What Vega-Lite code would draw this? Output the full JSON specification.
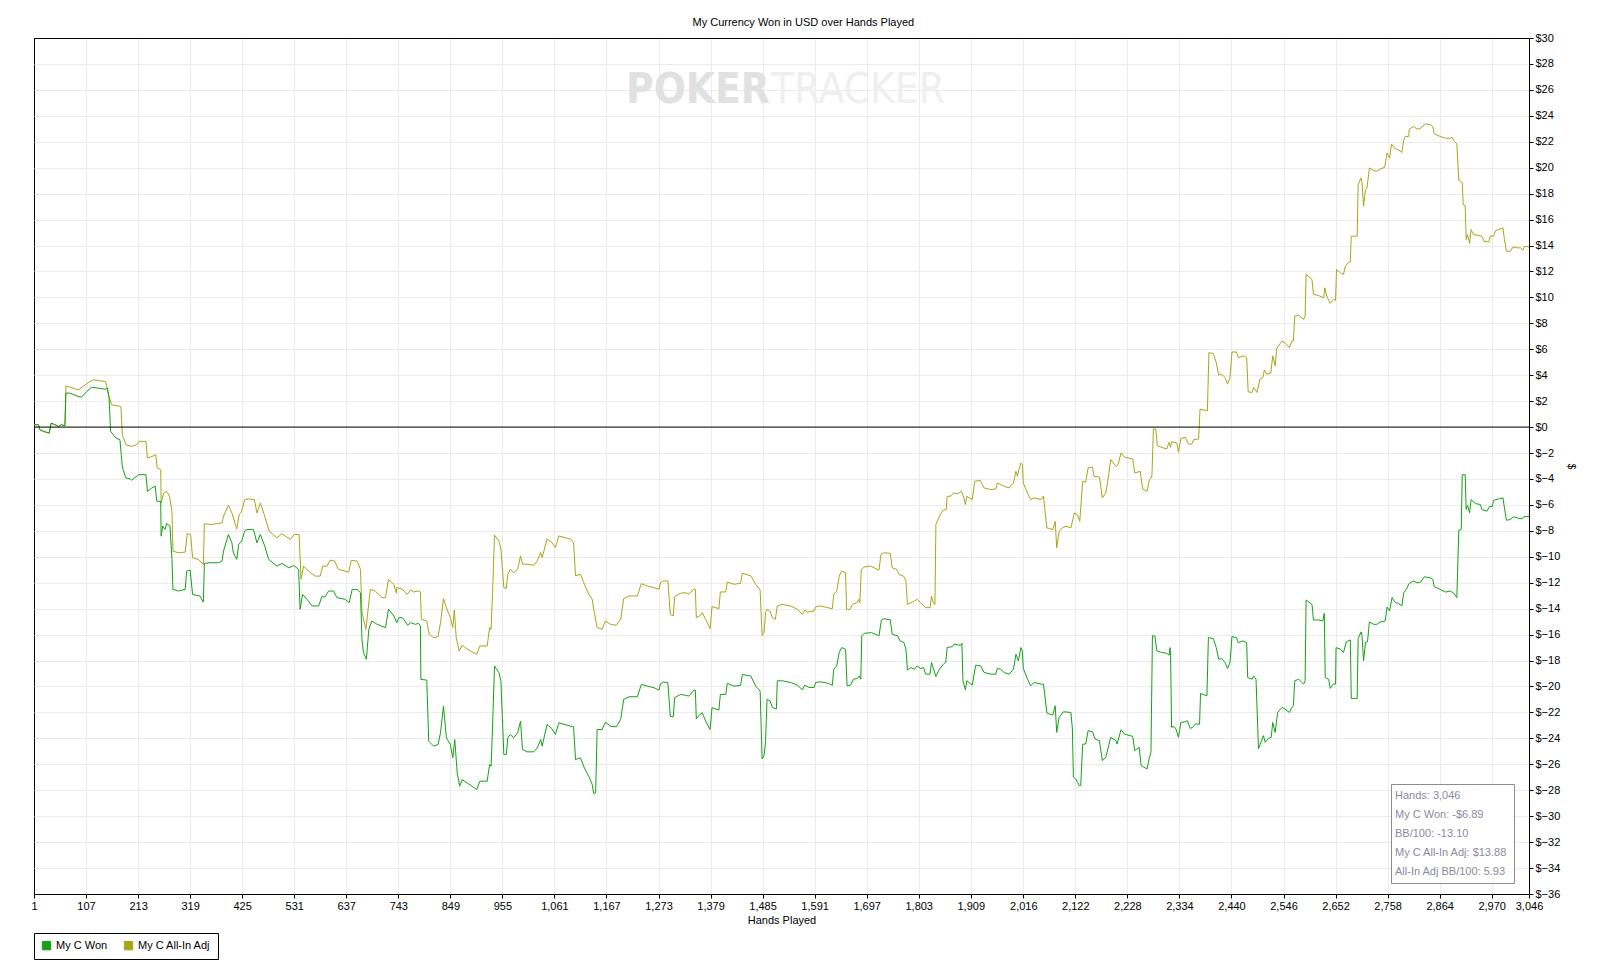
{
  "$schema": "https://vega.github.io/schema/vega-lite/v6.json",
  "width": 1495,
  "height": 856,
  "autosize": {"type": "none"},
  "padding": {"left": 34, "top": 38, "right": 80, "bottom": 85},
  "background": "white",
  "title": {
    "text": "My Currency Won in USD over Hands Played",
    "font": "Liberation Sans",
    "fontSize": 11,
    "fontWeight": "normal",
    "color": "black",
    "anchor": "middle",
    "frame": "bounds",
    "offset": 4
  },
  "datasets": {
    "won": [
      {"h":1,"v":0.18},{"h":10,"v":0.18},{"h":13,"v":-0.21},{"h":20,"v":-0.33},{"h":32,"v":-0.46},{"h":36,"v":0.31},{"h":44,"v":0.18},{"h":51,"v":0.05},{"h":57,"v":0.18},{"h":64,"v":0.1},
      {"h":66,"v":2.62},{"h":74,"v":2.62},{"h":91,"v":2.36},{"h":98,"v":2.31},{"h":108,"v":2.74},{"h":119,"v":3.08},{"h":132,"v":3.0},{"h":146,"v":2.92},{"h":150,"v":3.0},{"h":154,"v":2.23},
      {"h":157,"v":-0.33},{"h":168,"v":-0.85},{"h":176,"v":-0.97},{"h":181,"v":-3.08},{"h":188,"v":-3.92},{"h":197,"v":-4.0},{"h":200,"v":-4.1},{"h":210,"v":-3.79},{"h":214,"v":-3.67},{"h":229,"v":-3.67},
      {"h":232,"v":-4.95},{"h":241,"v":-4.69},{"h":248,"v":-4.56},{"h":251,"v":-5.72},{"h":259,"v":-5.72},{"h":260,"v":-8.41},{"h":263,"v":-7.64},{"h":268,"v":-7.9},{"h":271,"v":-7.44},{"h":278,"v":-7.64},
      {"h":282,"v":-10.2},{"h":284,"v":-12.51},{"h":295,"v":-12.64},{"h":309,"v":-12.51},{"h":312,"v":-11.1},{"h":319,"v":-11.03},{"h":324,"v":-12.9},{"h":339,"v":-13.03},{"h":346,"v":-13.49},{"h":348,"v":-10.51},
      {"h":360,"v":-10.46},{"h":377,"v":-10.46},{"h":384,"v":-10.33},{"h":387,"v":-9.56},{"h":397,"v":-8.28},{"h":404,"v":-8.92},{"h":407,"v":-9.69},{"h":414,"v":-10.2},{"h":418,"v":-9.05},{"h":424,"v":-8.79},
      {"h":430,"v":-8.03},{"h":435,"v":-7.9},{"h":448,"v":-7.9},{"h":455,"v":-8.92},{"h":462,"v":-8.28},{"h":471,"v":-9.18},{"h":479,"v":-10.2},{"h":496,"v":-10.72},{"h":506,"v":-10.51},{"h":520,"v":-10.85},
      {"h":530,"v":-10.67},{"h":540,"v":-10.97},{"h":543,"v":-14.05},{"h":548,"v":-12.9},{"h":560,"v":-13.41},{"h":567,"v":-13.79},{"h":581,"v":-13.79},{"h":587,"v":-13.08},{"h":594,"v":-13.08},{"h":601,"v":-12.64},
      {"h":611,"v":-12.64},{"h":618,"v":-13.15},{"h":635,"v":-13.28},{"h":643,"v":-13.54},{"h":649,"v":-12.51},{"h":659,"v":-12.51},{"h":666,"v":-12.77},{"h":669,"v":-16.36},{"h":672,"v":-17.38},{"h":678,"v":-17.9},
      {"h":683,"v":-15.59},{"h":689,"v":-14.95},{"h":700,"v":-15.21},{"h":717,"v":-15.46},{"h":723,"v":-14.05},{"h":734,"v":-14.56},{"h":740,"v":-15.08},{"h":744,"v":-14.69},{"h":751,"v":-14.69},{"h":754,"v":-14.82},
      {"h":762,"v":-15.28},{"h":768,"v":-15.08},{"h":778,"v":-15.21},{"h":784,"v":-15.13},{"h":788,"v":-15.34},{"h":789,"v":-19.45},{"h":801,"v":-19.51},{"h":805,"v":-24.22},{"h":815,"v":-24.6},{"h":824,"v":-24.47},
      {"h":829,"v":-23.57},{"h":835,"v":-21.51},{"h":841,"v":-23.96},{"h":849,"v":-24.47},{"h":854,"v":-25.5},{"h":858,"v":-24.09},{"h":863,"v":-26.66},{"h":868,"v":-27.69},{"h":873,"v":-27.18},{"h":883,"v":-27.43},
      {"h":893,"v":-27.69},{"h":903,"v":-27.95},{"h":909,"v":-27.3},{"h":924,"v":-27.3},{"h":929,"v":-26.02},{"h":932,"v":-26.15},{"h":935,"v":-23.06},{"h":939,"v":-18.42},{"h":948,"v":-18.94},{"h":952,"v":-19.58},
      {"h":958,"v":-25.25},{"h":963,"v":-25.25},{"h":966,"v":-23.96},{"h":971,"v":-23.7},{"h":978,"v":-23.96},{"h":986,"v":-23.57},{"h":992,"v":-22.67},{"h":996,"v":-24.86},{"h":1005,"v":-25.04},{"h":1019,"v":-25.04},
      {"h":1026,"v":-24.73},{"h":1033,"v":-24.09},{"h":1036,"v":-24.6},{"h":1046,"v":-22.93},{"h":1056,"v":-23.26},{"h":1063,"v":-23.7},{"h":1070,"v":-22.8},{"h":1094,"v":-23.06},{"h":1100,"v":-23.11},{"h":1104,"v":-25.63},
      {"h":1114,"v":-25.5},{"h":1122,"v":-26.28},{"h":1131,"v":-26.92},{"h":1138,"v":-27.56},{"h":1141,"v":-28.26},{"h":1145,"v":-28.21},{"h":1148,"v":-23.32},{"h":1158,"v":-23.32},{"h":1165,"v":-22.75},{"h":1175,"v":-23.06},
      {"h":1187,"v":-23.11},{"h":1196,"v":-22.54},{"h":1202,"v":-21.0},{"h":1213,"v":-20.79},{"h":1230,"v":-20.79},{"h":1238,"v":-19.84},{"h":1250,"v":-19.97},{"h":1264,"v":-20.1},{"h":1274,"v":-20.28},{"h":1277,"v":-19.79},
      {"h":1283,"v":-19.66},{"h":1292,"v":-19.71},{"h":1297,"v":-22.29},{"h":1303,"v":-22.34},{"h":1306,"v":-20.87},{"h":1318,"v":-20.61},{"h":1328,"v":-20.69},{"h":1335,"v":-20.74},{"h":1345,"v":-20.28},{"h":1348,"v":-20.28},
      {"h":1350,"v":-22.49},{"h":1357,"v":-22.16},{"h":1362,"v":-22.03},{"h":1369,"v":-22.67},{"h":1378,"v":-23.32},{"h":1382,"v":-21.64},{"h":1396,"v":-21.82},{"h":1399,"v":-20.61},{"h":1410,"v":-20.61},{"h":1413,"v":-19.76},
      {"h":1427,"v":-19.97},{"h":1440,"v":-19.92},{"h":1444,"v":-19.07},{"h":1461,"v":-19.2},{"h":1471,"v":-19.97},{"h":1480,"v":-20.36},{"h":1484,"v":-25.58},{"h":1488,"v":-25.3},{"h":1491,"v":-24.3},{"h":1494,"v":-21.0},
      {"h":1500,"v":-21.1},{"h":1505,"v":-21.62},{"h":1513,"v":-21.74},{"h":1515,"v":-19.56},{"h":1525,"v":-19.56},{"h":1542,"v":-19.69},{"h":1556,"v":-19.9},{"h":1566,"v":-20.26},{"h":1571,"v":-19.9},{"h":1580,"v":-20.08},
      {"h":1590,"v":-20.08},{"h":1593,"v":-19.69},{"h":1603,"v":-19.64},{"h":1617,"v":-19.74},{"h":1627,"v":-19.9},{"h":1630,"v":-18.67},{"h":1636,"v":-18.41},{"h":1641,"v":-17.38},{"h":1646,"v":-17.0},{"h":1654,"v":-17.13},
      {"h":1657,"v":-19.95},{"h":1664,"v":-19.9},{"h":1670,"v":-19.44},{"h":1678,"v":-19.38},{"h":1682,"v":-19.18},{"h":1685,"v":-19.44},{"h":1687,"v":-16.1},{"h":1692,"v":-15.9},{"h":1707,"v":-15.85},{"h":1722,"v":-16.1},
      {"h":1727,"v":-14.87},{"h":1732,"v":-14.77},{"h":1745,"v":-14.87},{"h":1749,"v":-15.97},{"h":1760,"v":-16.1},{"h":1765,"v":-16.49},{"h":1773,"v":-16.62},{"h":1777,"v":-17.13},{"h":1780,"v":-18.72},{"h":1787,"v":-18.54},
      {"h":1794,"v":-18.67},{"h":1800,"v":-18.41},{"h":1807,"v":-18.62},{"h":1813,"v":-18.54},{"h":1817,"v":-19.05},{"h":1826,"v":-19.05},{"h":1829,"v":-18.15},{"h":1838,"v":-19.23},{"h":1845,"v":-18.67},{"h":1853,"v":-18.28},
      {"h":1858,"v":-18.15},{"h":1861,"v":-17.0},{"h":1872,"v":-16.92},{"h":1875,"v":-16.74},{"h":1889,"v":-16.82},{"h":1891,"v":-16.67},{"h":1893,"v":-19.56},{"h":1898,"v":-20.26},{"h":1901,"v":-19.56},{"h":1912,"v":-19.9},
      {"h":1919,"v":-18.36},{"h":1929,"v":-18.41},{"h":1936,"v":-18.92},{"h":1950,"v":-19.05},{"h":1960,"v":-19.05},{"h":1963,"v":-18.62},{"h":1970,"v":-18.67},{"h":1977,"v":-18.92},{"h":1987,"v":-19.05},{"h":1996,"v":-18.67},
      {"h":2001,"v":-17.51},{"h":2006,"v":-18.03},{"h":2011,"v":-17.0},{"h":2014,"v":-17.26},{"h":2016,"v":-18.62},{"h":2026,"v":-19.56},{"h":2031,"v":-19.95},{"h":2038,"v":-19.69},{"h":2052,"v":-19.82},{"h":2057,"v":-19.82},
      {"h":2060,"v":-20.72},{"h":2064,"v":-22.05},{"h":2076,"v":-22.21},{"h":2081,"v":-21.49},{"h":2084,"v":-23.54},{"h":2089,"v":-22.38},{"h":2098,"v":-21.95},{"h":2113,"v":-22.0},{"h":2116,"v":-23.28},{"h":2118,"v":-27.0},
      {"h":2123,"v":-27.13},{"h":2130,"v":-27.64},{"h":2133,"v":-27.64},{"h":2137,"v":-24.44},{"h":2143,"v":-24.44},{"h":2148,"v":-23.41},{"h":2157,"v":-23.49},{"h":2162,"v":-24.05},{"h":2171,"v":-24.18},{"h":2177,"v":-25.72},
      {"h":2184,"v":-25.46},{"h":2190,"v":-24.56},{"h":2194,"v":-23.92},{"h":2205,"v":-24.18},{"h":2207,"v":-24.44},{"h":2215,"v":-23.33},{"h":2222,"v":-23.67},{"h":2239,"v":-23.85},{"h":2243,"v":-24.95},{"h":2252,"v":-24.69},
      {"h":2256,"v":-26.1},{"h":2268,"v":-26.36},{"h":2273,"v":-25.46},{"h":2276,"v":-25.08},{"h":2279,"v":-16.1},{"h":2284,"v":-16.1},{"h":2288,"v":-17.26},{"h":2298,"v":-17.38},{"h":2308,"v":-17.44},{"h":2313,"v":-17.59},
      {"h":2315,"v":-17.0},{"h":2316,"v":-17.59},{"h":2318,"v":-23.15},{"h":2323,"v":-23.08},{"h":2327,"v":-23.28},{"h":2332,"v":-23.92},{"h":2337,"v":-22.77},{"h":2346,"v":-22.72},{"h":2350,"v":-22.64},{"h":2356,"v":-23.23},
      {"h":2361,"v":-23.15},{"h":2366,"v":-22.9},{"h":2375,"v":-22.9},{"h":2377,"v":-20.54},{"h":2390,"v":-20.72},{"h":2393,"v":-16.23},{"h":2403,"v":-16.31},{"h":2409,"v":-17.0},{"h":2414,"v":-17.9},{"h":2420,"v":-17.85},
      {"h":2427,"v":-18.15},{"h":2432,"v":-18.62},{"h":2437,"v":-18.15},{"h":2441,"v":-16.15},{"h":2450,"v":-16.23},{"h":2454,"v":-16.62},{"h":2463,"v":-16.49},{"h":2471,"v":-16.62},{"h":2473,"v":-19.31},{"h":2482,"v":-19.44},
      {"h":2485,"v":-19.18},{"h":2490,"v":-19.44},{"h":2495,"v":-24.82},{"h":2505,"v":-23.79},{"h":2509,"v":-24.31},{"h":2515,"v":-24.0},{"h":2521,"v":-23.92},{"h":2524,"v":-22.77},{"h":2529,"v":-23.54},{"h":2534,"v":-22.0},
      {"h":2543,"v":-21.62},{"h":2549,"v":-21.74},{"h":2558,"v":-22.0},{"h":2563,"v":-21.62},{"h":2566,"v":-21.49},{"h":2569,"v":-19.56},{"h":2577,"v":-19.44},{"h":2587,"v":-19.82},{"h":2590,"v":-19.56},{"h":2592,"v":-13.33},
      {"h":2604,"v":-13.67},{"h":2607,"v":-14.87},{"h":2617,"v":-14.87},{"h":2626,"v":-14.95},{"h":2629,"v":-14.36},{"h":2631,"v":-19.31},{"h":2638,"v":-19.44},{"h":2641,"v":-20.15},{"h":2647,"v":-19.82},{"h":2652,"v":-19.82},
      {"h":2653,"v":-17.0},{"h":2662,"v":-17.13},{"h":2668,"v":-17.38},{"h":2674,"v":-16.56},{"h":2682,"v":-16.41},{"h":2684,"v":-20.92},{"h":2696,"v":-20.92},{"h":2698,"v":-16.31},{"h":2704,"v":-15.79},{"h":2706,"v":-16.1},
      {"h":2709,"v":-18.03},{"h":2713,"v":-16.62},{"h":2717,"v":-16.56},{"h":2721,"v":-15.03},{"h":2730,"v":-15.21},{"h":2736,"v":-15.21},{"h":2743,"v":-15.03},{"h":2753,"v":-14.95},{"h":2757,"v":-13.87},{"h":2762,"v":-14.18},
      {"h":2767,"v":-13.15},{"h":2774,"v":-13.54},{"h":2780,"v":-13.59},{"h":2787,"v":-13.79},{"h":2791,"v":-12.77},{"h":2796,"v":-12.51},{"h":2802,"v":-12.05},{"h":2811,"v":-11.87},{"h":2818,"v":-12.0},{"h":2825,"v":-11.95},
      {"h":2833,"v":-11.54},{"h":2845,"v":-11.62},{"h":2850,"v":-11.74},{"h":2853,"v":-12.31},{"h":2865,"v":-12.51},{"h":2876,"v":-12.72},{"h":2886,"v":-12.64},{"h":2893,"v":-12.82},{"h":2899,"v":-13.15},{"h":2903,"v":-7.95},
      {"h":2908,"v":-7.9},{"h":2910,"v":-3.67},{"h":2916,"v":-3.67},{"h":2918,"v":-6.36},{"h":2921,"v":-6.05},{"h":2925,"v":-6.62},{"h":2928,"v":-5.59},{"h":2937,"v":-5.9},{"h":2947,"v":-5.97},{"h":2950,"v":-6.36},
      {"h":2960,"v":-6.49},{"h":2966,"v":-6.1},{"h":2971,"v":-6.15},{"h":2974,"v":-5.64},{"h":2984,"v":-5.54},{"h":2993,"v":-5.46},{"h":2996,"v":-6.23},{"h":3000,"v":-7.18},{"h":3008,"v":-7.13},{"h":3014,"v":-6.92},
      {"h":3022,"v":-7.0},{"h":3032,"v":-7.08},{"h":3035,"v":-6.92},{"h":3046,"v":-6.89}
    ],
    "adj": [
      {"h":1,"v":0.18},{"h":10,"v":0.18},{"h":13,"v":-0.21},{"h":20,"v":-0.33},{"h":32,"v":-0.46},{"h":36,"v":0.31},{"h":44,"v":0.18},{"h":51,"v":0.05},{"h":57,"v":0.18},{"h":64,"v":0.1},
      {"h":66,"v":3.18},{"h":91,"v":2.87},{"h":112,"v":3.44},{"h":122,"v":3.64},{"h":147,"v":3.51},{"h":154,"v":2.36},{"h":159,"v":1.72},{"h":178,"v":1.59},{"h":181,"v":-0.59},{"h":188,"v":-1.36},
      {"h":200,"v":-1.49},{"h":210,"v":-1.36},{"h":215,"v":-1.1},{"h":229,"v":-1.1},{"h":232,"v":-2.38},{"h":242,"v":-2.26},{"h":249,"v":-2.13},{"h":252,"v":-3.15},{"h":259,"v":-3.28},{"h":260,"v":-5.85},
      {"h":265,"v":-5.08},{"h":271,"v":-4.95},{"h":277,"v":-5.33},{"h":282,"v":-6.49},{"h":284,"v":-9.56},{"h":295,"v":-9.69},{"h":309,"v":-9.64},{"h":313,"v":-8.21},{"h":320,"v":-8.28},{"h":324,"v":-10.08},
      {"h":336,"v":-10.21},{"h":346,"v":-10.59},{"h":348,"v":-7.46},{"h":363,"v":-7.51},{"h":384,"v":-7.38},{"h":387,"v":-6.87},{"h":397,"v":-6.03},{"h":404,"v":-6.62},{"h":414,"v":-7.85},{"h":419,"v":-6.74},
      {"h":424,"v":-6.49},{"h":430,"v":-5.59},{"h":438,"v":-5.54},{"h":450,"v":-5.59},{"h":455,"v":-6.62},{"h":462,"v":-5.85},{"h":472,"v":-7.0},{"h":480,"v":-8.03},{"h":496,"v":-8.54},{"h":506,"v":-8.21},
      {"h":523,"v":-8.67},{"h":531,"v":-8.28},{"h":541,"v":-8.28},{"h":545,"v":-11.74},{"h":550,"v":-10.72},{"h":564,"v":-11.23},{"h":574,"v":-11.49},{"h":584,"v":-11.49},{"h":589,"v":-10.72},{"h":598,"v":-10.72},
      {"h":604,"v":-10.26},{"h":613,"v":-10.33},{"h":621,"v":-10.97},{"h":642,"v":-11.18},{"h":647,"v":-10.28},{"h":659,"v":-10.33},{"h":666,"v":-10.97},{"h":669,"v":-14.31},{"h":677,"v":-15.59},{"h":686,"v":-12.51},
      {"h":696,"v":-12.64},{"h":710,"v":-13.15},{"h":717,"v":-13.15},{"h":723,"v":-11.74},{"h":734,"v":-12.13},{"h":739,"v":-12.81},{"h":740,"v":-12.38},{"h":751,"v":-12.5},{"h":761,"v":-12.89},{"h":768,"v":-12.56},
      {"h":774,"v":-12.71},{"h":784,"v":-12.63},{"h":788,"v":-12.71},{"h":790,"v":-14.82},{"h":801,"v":-14.95},{"h":806,"v":-15.98},{"h":815,"v":-16.24},{"h":824,"v":-16.16},{"h":829,"v":-15.08},{"h":835,"v":-13.23},
      {"h":841,"v":-13.92},{"h":849,"v":-14.69},{"h":854,"v":-15.46},{"h":857,"v":-14.1},{"h":861,"v":-16.24},{"h":867,"v":-17.27},{"h":873,"v":-16.83},{"h":880,"v":-17.01},{"h":890,"v":-17.27},{"h":903,"v":-17.52},
      {"h":909,"v":-16.88},{"h":924,"v":-16.88},{"h":929,"v":-15.46},{"h":932,"v":-15.59},{"h":935,"v":-12.76},{"h":939,"v":-8.33},{"h":948,"v":-8.77},{"h":952,"v":-9.42},{"h":958,"v":-12.38},{"h":963,"v":-12.43},
      {"h":966,"v":-11.35},{"h":971,"v":-10.96},{"h":978,"v":-11.22},{"h":986,"v":-10.96},{"h":992,"v":-9.93},{"h":996,"v":-10.57},{"h":1005,"v":-10.57},{"h":1019,"v":-10.65},{"h":1026,"v":-10.32},{"h":1033,"v":-9.67},
      {"h":1036,"v":-10.06},{"h":1046,"v":-8.64},{"h":1056,"v":-8.9},{"h":1063,"v":-9.29},{"h":1070,"v":-8.39},{"h":1094,"v":-8.64},{"h":1100,"v":-8.9},{"h":1104,"v":-11.47},{"h":1114,"v":-11.35},{"h":1122,"v":-12.12},
      {"h":1131,"v":-12.89},{"h":1138,"v":-13.28},{"h":1141,"v":-14.05},{"h":1148,"v":-15.46},{"h":1158,"v":-15.59},{"h":1165,"v":-14.95},{"h":1175,"v":-15.21},{"h":1187,"v":-15.28},{"h":1196,"v":-14.82},{"h":1202,"v":-13.23},
      {"h":1213,"v":-13.02},{"h":1230,"v":-13.02},{"h":1238,"v":-12.07},{"h":1250,"v":-12.25},{"h":1264,"v":-12.38},{"h":1274,"v":-12.5},{"h":1277,"v":-11.99},{"h":1283,"v":-11.86},{"h":1292,"v":-11.86},{"h":1297,"v":-14.43},
      {"h":1303,"v":-14.56},{"h":1306,"v":-13.07},{"h":1318,"v":-12.81},{"h":1328,"v":-12.76},{"h":1335,"v":-12.89},{"h":1345,"v":-12.5},{"h":1348,"v":-12.5},{"h":1350,"v":-14.69},{"h":1357,"v":-14.56},{"h":1362,"v":-14.31},
      {"h":1369,"v":-14.82},{"h":1378,"v":-15.54},{"h":1382,"v":-13.84},{"h":1396,"v":-14.0},{"h":1399,"v":-12.71},{"h":1410,"v":-12.71},{"h":1413,"v":-11.94},{"h":1427,"v":-12.12},{"h":1440,"v":-12.04},{"h":1444,"v":-11.27},
      {"h":1461,"v":-11.47},{"h":1471,"v":-12.12},{"h":1480,"v":-12.56},{"h":1484,"v":-16.06},{"h":1488,"v":-15.85},{"h":1491,"v":-14.3},{"h":1494,"v":-14.05},{"h":1500,"v":-14.18},{"h":1505,"v":-14.69},{"h":1511,"v":-14.82},
      {"h":1515,"v":-13.79},{"h":1525,"v":-13.67},{"h":1542,"v":-13.79},{"h":1556,"v":-14.05},{"h":1566,"v":-14.44},{"h":1571,"v":-14.1},{"h":1576,"v":-14.26},{"h":1590,"v":-14.18},{"h":1593,"v":-13.87},{"h":1603,"v":-13.79},
      {"h":1617,"v":-13.92},{"h":1627,"v":-14.0},{"h":1630,"v":-12.9},{"h":1636,"v":-12.64},{"h":1641,"v":-11.49},{"h":1646,"v":-11.1},{"h":1654,"v":-11.23},{"h":1656,"v":-14.05},{"h":1663,"v":-14.05},{"h":1668,"v":-13.67},
      {"h":1677,"v":-13.54},{"h":1681,"v":-13.28},{"h":1683,"v":-13.54},{"h":1686,"v":-10.97},{"h":1692,"v":-10.79},{"h":1705,"v":-10.72},{"h":1722,"v":-11.03},{"h":1726,"v":-9.82},{"h":1731,"v":-9.69},{"h":1745,"v":-9.74},
      {"h":1749,"v":-10.85},{"h":1758,"v":-10.97},{"h":1763,"v":-11.36},{"h":1772,"v":-11.49},{"h":1777,"v":-11.87},{"h":1780,"v":-13.67},{"h":1787,"v":-13.54},{"h":1794,"v":-13.41},{"h":1800,"v":-13.28},{"h":1807,"v":-13.54},
      {"h":1817,"v":-13.92},{"h":1826,"v":-13.92},{"h":1829,"v":-13.03},{"h":1833,"v":-13.59},{"h":1836,"v":-13.67},{"h":1838,"v":-7.51},{"h":1845,"v":-6.87},{"h":1853,"v":-6.41},{"h":1859,"v":-6.36},{"h":1861,"v":-5.33},
      {"h":1868,"v":-5.33},{"h":1874,"v":-5.08},{"h":1882,"v":-5.13},{"h":1890,"v":-4.95},{"h":1895,"v":-5.46},{"h":1898,"v":-5.97},{"h":1901,"v":-5.33},{"h":1912,"v":-5.59},{"h":1917,"v":-4.18},{"h":1928,"v":-4.1},
      {"h":1936,"v":-4.69},{"h":1950,"v":-4.82},{"h":1960,"v":-4.77},{"h":1963,"v":-4.31},{"h":1970,"v":-4.44},{"h":1977,"v":-4.56},{"h":1987,"v":-4.69},{"h":1996,"v":-4.31},{"h":2001,"v":-3.41},{"h":2004,"v":-3.79},
      {"h":2008,"v":-3.15},{"h":2011,"v":-2.77},{"h":2014,"v":-2.9},{"h":2016,"v":-4.31},{"h":2026,"v":-5.21},{"h":2031,"v":-5.59},{"h":2038,"v":-5.46},{"h":2052,"v":-5.59},{"h":2057,"v":-5.33},{"h":2060,"v":-6.36},
      {"h":2064,"v":-7.77},{"h":2076,"v":-7.9},{"h":2081,"v":-7.26},{"h":2084,"v":-9.31},{"h":2089,"v":-8.03},{"h":2096,"v":-7.77},{"h":2103,"v":-7.64},{"h":2113,"v":-7.77},{"h":2120,"v":-6.62},{"h":2126,"v":-6.74},
      {"h":2131,"v":-7.26},{"h":2137,"v":-4.18},{"h":2143,"v":-4.26},{"h":2148,"v":-3.15},{"h":2157,"v":-3.08},{"h":2160,"v":-3.79},{"h":2171,"v":-3.85},{"h":2177,"v":-5.46},{"h":2184,"v":-5.08},{"h":2190,"v":-3.67},
      {"h":2194,"v":-2.51},{"h":2205,"v":-3.03},{"h":2209,"v":-2.9},{"h":2215,"v":-2.0},{"h":2222,"v":-2.31},{"h":2239,"v":-2.46},{"h":2243,"v":-3.54},{"h":2254,"v":-3.41},{"h":2259,"v":-4.77},{"h":2268,"v":-4.95},
      {"h":2273,"v":-4.05},{"h":2276,"v":-3.92},{"h":2278,"v":-3.74},{"h":2281,"v":-0.15},{"h":2286,"v":-0.15},{"h":2289,"v":-1.44},{"h":2298,"v":-1.56},{"h":2308,"v":-1.69},{"h":2313,"v":-1.18},{"h":2316,"v":-1.56},
      {"h":2318,"v":-1.13},{"h":2329,"v":-1.23},{"h":2332,"v":-1.95},{"h":2337,"v":-0.87},{"h":2346,"v":-0.79},{"h":2352,"v":-1.31},{"h":2359,"v":-1.31},{"h":2363,"v":-0.97},{"h":2373,"v":-0.92},{"h":2376,"v":1.38},
      {"h":2391,"v":1.26},{"h":2394,"v":5.74},{"h":2403,"v":5.67},{"h":2409,"v":4.97},{"h":2414,"v":4.0},{"h":2420,"v":4.08},{"h":2427,"v":3.82},{"h":2432,"v":3.31},{"h":2437,"v":3.82},{"h":2441,"v":5.79},
      {"h":2450,"v":5.79},{"h":2454,"v":5.36},{"h":2465,"v":5.49},{"h":2471,"v":5.36},{"h":2474,"v":2.72},{"h":2482,"v":2.67},{"h":2485,"v":3.05},{"h":2492,"v":2.67},{"h":2498,"v":3.69},{"h":2504,"v":3.82},
      {"h":2507,"v":4.41},{"h":2512,"v":4.08},{"h":2520,"v":4.15},{"h":2524,"v":5.49},{"h":2529,"v":4.72},{"h":2532,"v":6.05},{"h":2543,"v":6.64},{"h":2549,"v":6.51},{"h":2558,"v":6.13},{"h":2563,"v":6.64},
      {"h":2566,"v":6.64},{"h":2569,"v":8.56},{"h":2577,"v":8.62},{"h":2587,"v":8.31},{"h":2590,"v":8.56},{"h":2592,"v":11.77},{"h":2604,"v":11.38},{"h":2607,"v":10.23},{"h":2617,"v":10.15},{"h":2628,"v":9.97},
      {"h":2630,"v":10.74},{"h":2634,"v":10.1},{"h":2641,"v":9.54},{"h":2648,"v":9.85},{"h":2652,"v":9.77},{"h":2654,"v":12.15},{"h":2662,"v":11.9},{"h":2668,"v":11.77},{"h":2672,"v":12.41},{"h":2679,"v":12.72},
      {"h":2682,"v":12.72},{"h":2684,"v":14.72},{"h":2696,"v":14.72},{"h":2698,"v":18.69},{"h":2704,"v":19.21},{"h":2706,"v":18.82},{"h":2709,"v":17.03},{"h":2713,"v":18.31},{"h":2716,"v":18.44},{"h":2721,"v":19.97},
      {"h":2730,"v":19.79},{"h":2736,"v":19.72},{"h":2743,"v":19.9},{"h":2752,"v":20.03},{"h":2757,"v":21.13},{"h":2762,"v":20.74},{"h":2766,"v":21.82},{"h":2774,"v":21.44},{"h":2780,"v":21.38},{"h":2787,"v":21.18},
      {"h":2791,"v":22.15},{"h":2794,"v":22.41},{"h":2801,"v":22.41},{"h":2802,"v":22.97},{"h":2811,"v":23.18},{"h":2818,"v":22.97},{"h":2825,"v":23.05},{"h":2835,"v":23.38},{"h":2845,"v":23.31},{"h":2850,"v":23.18},
      {"h":2853,"v":22.62},{"h":2865,"v":22.41},{"h":2876,"v":22.28},{"h":2886,"v":22.28},{"h":2889,"v":22.36},{"h":2894,"v":22.03},{"h":2899,"v":21.85},{"h":2903,"v":19.03},{"h":2910,"v":18.87},{"h":2912,"v":17.15},
      {"h":2916,"v":17.08},{"h":2918,"v":14.46},{"h":2921,"v":14.85},{"h":2925,"v":14.15},{"h":2928,"v":15.23},{"h":2933,"v":14.85},{"h":2944,"v":14.77},{"h":2950,"v":14.72},{"h":2954,"v":14.33},{"h":2964,"v":14.26},
      {"h":2967,"v":14.72},{"h":2974,"v":14.72},{"h":2978,"v":15.15},{"h":2984,"v":15.23},{"h":2993,"v":15.36},{"h":2996,"v":14.46},{"h":3000,"v":13.56},{"h":3008,"v":13.56},{"h":3014,"v":13.9},{"h":3022,"v":13.82},
      {"h":3029,"v":13.82},{"h":3034,"v":13.64},{"h":3037,"v":13.95},{"h":3046,"v":13.88}
    ],
    "info": [
      {"t":"Hands: 3,046"},
      {"t":"My C Won: -$6.89"},
      {"t":"BB/100: -13.10"},
      {"t":"My C All-In Adj: $13.88"},
      {"t":"All-In Adj BB/100: 5.93"}
    ]
  },
  "layer": [
    {
      "data": {"name": "adj"},
      "mark": {"type": "line", "strokeWidth": 1, "interpolate": "linear"},
      "encoding": {
        "x": {
          "field": "h", "type": "quantitative",
          "scale": {"domain": [1, 3046], "nice": false, "zero": false},
          "axis": {
            "title": "Hands Played",
            "values": [1,107,213,319,425,531,637,743,849,955,1061,1167,1273,1379,1485,1591,1697,1803,1909,2016,2122,2228,2334,2440,2546,2652,2758,2864,2970,3046],
            "tickCount": 40,
            "format": ",d",
            "labelOverlap": false,
            "labelFlush": false,
            "grid": true,
            "gridColor": {"condition": {"test": "datum.value <= 1", "value": "black"}, "value": "#ebebeb"},
            "domainColor": "black",
            "tickColor": "black",
            "tickSize": 4,
            "labelPadding": 2,
            "labelFont": "Liberation Sans",
            "labelFontSize": 11,
            "labelColor": "black",
            "titleFont": "Liberation Sans",
            "titleFontSize": 11,
            "titleFontWeight": "normal",
            "titleColor": "black",
            "titlePadding": 3
          }
        },
        "y": {
          "field": "v", "type": "quantitative",
          "scale": {"domain": [-36, 30], "nice": false, "zero": false},
          "axis": {
            "orient": "right",
            "title": "$",
            "values": [-36,-34,-32,-30,-28,-26,-24,-22,-20,-18,-16,-14,-12,-10,-8,-6,-4,-2,0,2,4,6,8,10,12,14,16,18,20,22,24,26,28,30],
            "tickCount": 50,
            "labelExpr": "'$' + format(datum.value, 'd')",
            "labelOverlap": false,
            "labelFlush": false,
            "grid": true,
            "gridColor": {"condition": {"test": "datum.value >= 30", "value": "black"}, "value": "#ebebeb"},
            "domainColor": "black",
            "tickColor": "black",
            "tickSize": 4,
            "labelPadding": 2,
            "labelFont": "Liberation Sans",
            "labelFontSize": 11,
            "labelColor": "black",
            "titleFont": "Liberation Sans",
            "titleFontSize": 10,
            "titleFontWeight": "normal",
            "titleColor": "black",
            "titlePadding": 6
          }
        },
        "color": {
          "datum": "My C All-In Adj",
          "type": "nominal",
          "scale": {"domain": ["My C Won", "My C All-In Adj"], "range": ["#16a016", "#a6a61c"]},
          "legend": {
            "orient": "none",
            "legendX": 0,
            "legendY": 895,
            "direction": "horizontal",
            "title": null,
            "strokeColor": "black",
            "fillColor": "white",
            "padding": 7,
            "symbolType": "square",
            "symbolSize": 70,
            "symbolStrokeWidth": 1,
            "labelFont": "Liberation Sans",
            "labelFontSize": 11,
            "labelColor": "black",
            "labelOffset": 4,
            "columnPadding": 14,
            "encode": {
              "symbols": {
                "update": {
                  "fill": {"scale": "color", "field": "value"},
                  "stroke": {"value": "black"},
                  "strokeWidth": {"value": 1},
                  "shape": {"value": "square"},
                  "opacity": {"value": 1}
                }
              }
            }
          }
        }
      }
    },
    {
      "data": {"name": "won"},
      "mark": {"type": "line", "strokeWidth": 1, "interpolate": "linear"},
      "encoding": {
        "x": {"field": "h", "type": "quantitative"},
        "y": {"field": "v", "type": "quantitative"},
        "color": {"datum": "My C Won", "type": "nominal"}
      }
    },
    {
      "data": {"values": [{"zero": 0}]},
      "mark": {"type": "rule", "color": "black", "strokeWidth": 1},
      "encoding": {"y": {"field": "zero", "type": "quantitative"}}
    },
    {
      "data": {"values": [{"brand": "POKER", "h": 1500, "v": 24.97}]},
      "mark": {"type": "text", "align": "right", "baseline": "alphabetic", "font": "Liberation Sans Narrow, DejaVu Sans Condensed, sans-serif", "fontSize": 42, "fontWeight": "bold", "color": "#e1e1e1"},
      "encoding": {
        "x": {"field": "h", "type": "quantitative"},
        "y": {"field": "v", "type": "quantitative"},
        "text": {"field": "brand"}
      }
    },
    {
      "data": {"values": [{"brand": "TRACKER", "h": 1502, "v": 24.97}]},
      "mark": {"type": "text", "align": "left", "baseline": "alphabetic", "font": "Liberation Sans Narrow, DejaVu Sans Condensed, sans-serif", "fontSize": 42, "fontWeight": "normal", "color": "#efefef"},
      "encoding": {
        "x": {"field": "h", "type": "quantitative"},
        "y": {"field": "v", "type": "quantitative"},
        "text": {"field": "brand"}
      }
    },
    {
      "data": {"name": "info"},
      "mark": {"type": "point", "opacity": 0},
      "encoding": {
        "shape": {
          "field": "t",
          "type": "nominal",
          "scale": {"domain": ["Hands: 3,046", "My C Won: -$6.89", "BB/100: -13.10", "My C All-In Adj: $13.88", "All-In Adj BB/100: 5.93"]},
          "legend": {
            "orient": "none",
            "legendX": 1357,
            "legendY": 746,
            "direction": "vertical",
            "title": null,
            "strokeColor": "#8c8c8c",
            "fillColor": "white",
            "padding": 6,
            "symbolSize": 0,
            "symbolOpacity": 0,
            "symbolStrokeWidth": 0,
            "labelOffset": -13,
            "labelFont": "Liberation Sans",
            "labelFontSize": 11,
            "labelColor": "#8a8a9c",
            "labelLimit": 300,
            "rowPadding": 7
          }
        }
      }
    }
  ],
  "config": {
    "view": {"stroke": "black", "strokeWidth": 1},
    "axis": {"labelOverlap": false}
  }
}
